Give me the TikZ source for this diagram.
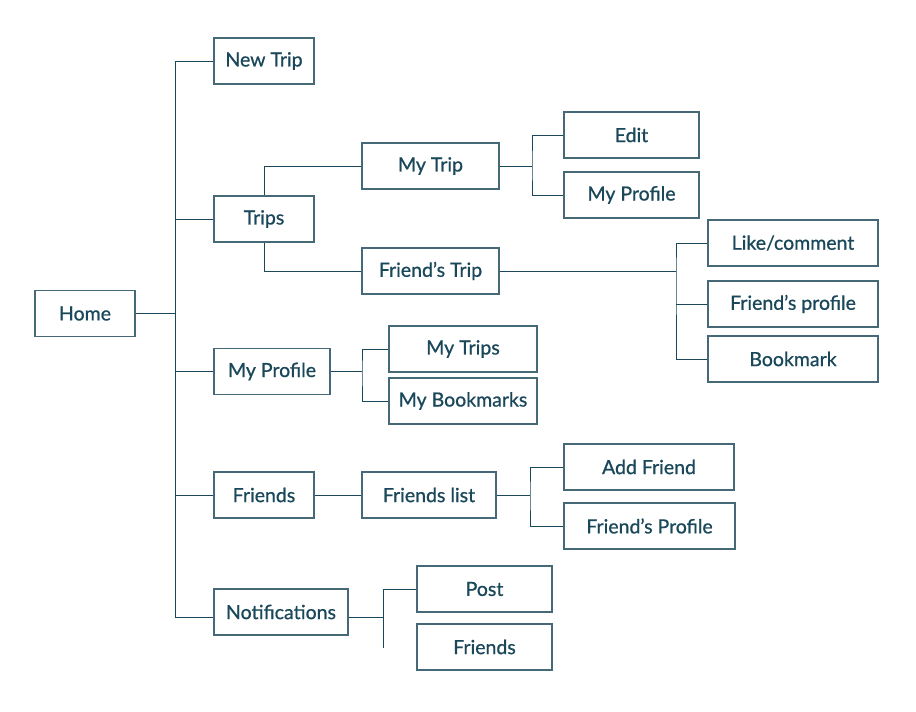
\documentclass[tikz,border=0pt]{standalone}
\usepackage{fontspec}
\setmainfont{Lato}
\newfontfamily\labelfont[FakeBold=0.8]{Lato}
\definecolor{navy}{RGB}{26,72,90}
\definecolor{boxline}{RGB}{70,105,120}
\begin{document}
\begin{tikzpicture}[x=1pt,y=-1pt]
            \tikzstyle{every node}+=[inner sep=0pt]
            \tikzstyle{page}=[draw=boxline, line width=1.1pt, text=navy, font=\labelfont\fontsize{19.5}{21}\selectfont, minimum height=46pt]
            \tikzstyle{link}=[navy, line width=1pt]
            \useasboundingbox (0,0) rectangle (916,712);
            \node [page, minimum width=100pt] (home) at (85,313.5) {Home};
            \node [page, minimum width=100pt] (newtrip) at (264,61) {New Trip};
            \node [page, minimum width=100pt] (trips) at (264,219) {Trips};
            \node [page, minimum width=116pt] (myprofile) at (272,371.5) {My Profile};
            \node [page, minimum width=100pt] (friends) at (264,495) {Friends};
            \node [page, minimum width=134pt] (notif) at (281,612) {Notifications};
            \node [page, minimum width=137pt] (mytrip) at (430.5,166) {My Trip};
            \node [page, minimum width=137pt] (friendtrip) at (430.5,271) {Friend’s Trip};
            \node [page, minimum width=135pt] (edit) at (631.5,135) {Edit};
            \node [page, minimum width=135pt] (myprofileb) at (631.5,195) {My Profile};
            \node [page, minimum width=170pt] (like) at (793,243) {Like/comment};
            \node [page, minimum width=170pt] (friendprofile) at (793,304) {Friend’s profile};
            \node [page, minimum width=170pt] (bookmark) at (793,359) {Bookmark};
            \node [page, minimum width=148pt] (mytrips) at (463,349) {My Trips};
            \node [page, minimum width=148pt] (mybookmarks) at (463,401) {My Bookmarks};
            \node [page, minimum width=134pt] (friendslist) at (429,495) {Friends list};
            \node [page, minimum width=170pt] (addfriend) at (649,467) {Add Friend};
            \node [page, minimum width=171pt] (friendprofileb) at (649.5,526) {Friend’s Profile};
            \node [page, minimum width=135pt] (post) at (484.5,589) {Post};
            \node [page, minimum width=135pt] (friendsb) at (484.5,647) {Friends};
            \coordinate (t1) at (175,61);
            \coordinate (t5) at (175,617);
            \coordinate (j1) at (532,166);
            \coordinate (j2) at (676,271);
            \coordinate (j3) at (362,371.5);
            \coordinate (j4) at (530,495);
            \coordinate (j5) at (383,617);
            \coordinate (nend) at (383,648);
            \draw [link] (t1) -- (t5);
            \draw [link] (home.east) -- (home.east -| t1);
            \draw [link] (t1) -- (newtrip.west);
            \draw [link] (trips.west) -- (trips.west -| t1);
            \draw [link] (myprofile.west) -- (myprofile.west -| t1);
            \draw [link] (friends.west) -- (friends.west -| t1);
            \draw [link] (t5) -- (t5 -| notif.west);
            \draw [link] (trips.north) |- (mytrip.west);
            \draw [link] (trips.south) |- (friendtrip.west);
            \draw [link] (mytrip.east) -- (j1);
            \draw [link] (edit.west) -| (j1) |- (myprofileb.west);
            \draw [link] (friendtrip.east) -- (j2);
            \draw [link] (like.west) -| (j2) |- (bookmark.west);
            \draw [link] (friendprofile.west) -- (friendprofile.west -| j2);
            \draw [link] (myprofile.east) -- (j3);
            \draw [link] (mytrips.west) -| (j3) |- (mybookmarks.west);
            \draw [link] (friends.east) -- (friendslist.west);
            \draw [link] (friendslist.east) -- (j4);
            \draw [link] (addfriend.west) -| (j4) |- (friendprofileb.west);
            \draw [link] (j5 -| notif.east) -- (j5);
            \draw [link] (post.west) -| (nend);
          \end{tikzpicture}
\end{document}
